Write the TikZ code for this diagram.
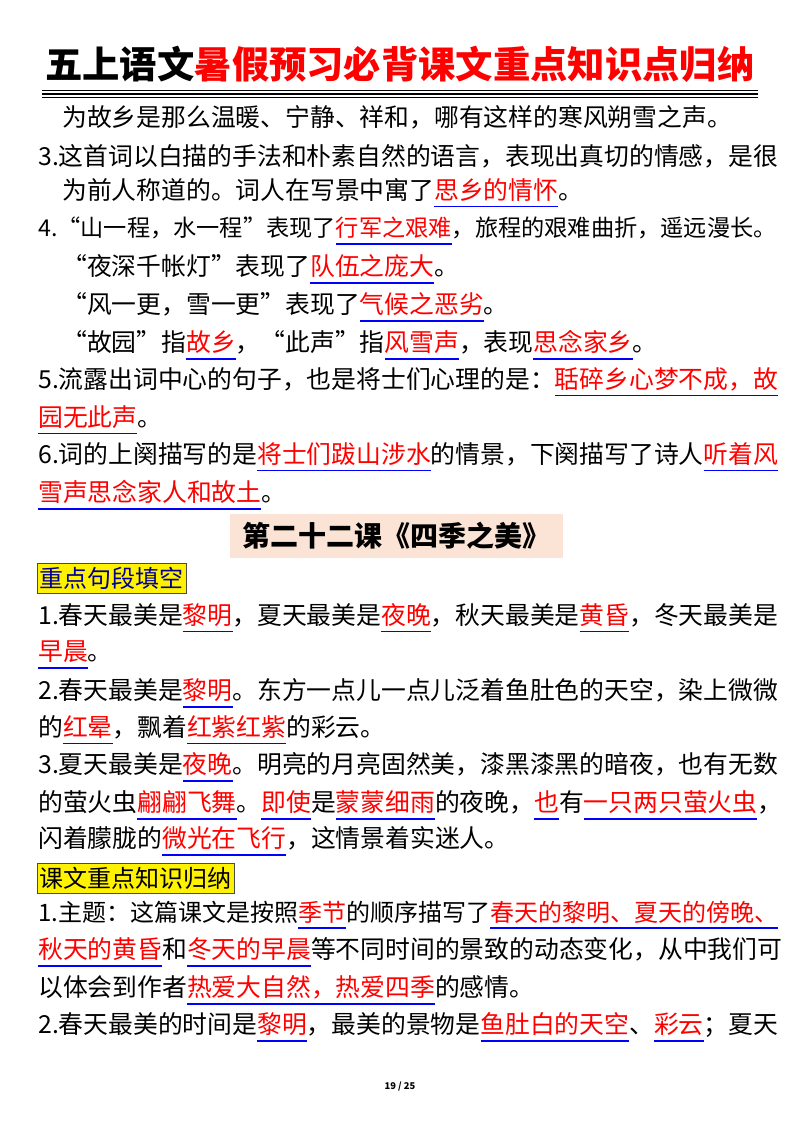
\documentclass[tikz,border=0pt]{standalone}
\usepackage{fontspec}
\setmainfont{Noto Sans CJK SC}
\newcommand\bu[1]{\hbox{\setbox0\hbox{{\color{red}#1}}\rlap{{\color{blue}\rule[-6pt]{\wd0}{1.3pt}}}\box0}}
\definecolor{peach}{RGB}{251,228,213}
\begin{document}
\begin{tikzpicture}[x=0.75pt,y=-0.75pt,
  ln/.style={anchor=west,inner sep=0pt,font=\fontsize{18.6pt}{22pt}\selectfont},
  hl/.style={anchor=west,inner xsep=2pt,inner ysep=3pt,fill=yellow,draw=black!70,font=\fontsize{18pt}{22pt}\selectfont}]
\useasboundingbox (0,0) rectangle (800,1132);
\fill[white] (0,0) rectangle (800,1132);
\node[anchor=center,inner sep=0pt,font=\fontsize{28pt}{32pt}\selectfont\bfseries] (title) at (400,64) {五上语文\textcolor{red}{暑假预习必背课文重点知识点归纳}};
\draw[line width=1.2pt] (42,90.5) -- (758,90.5);
\draw[line width=1.2pt] (42,94) -- (758,94);
\draw[line width=0.8pt] (42,97.5) -- (758,97.5);
\node[ln] (l1) at (62,117) {为故乡是那么温暖、宁静、祥和，哪有这样的寒风朔雪之声。};
\node[ln] (l2) at (38,156) {3.这首词以白描的手法和朴素自然的语言，表现出真切的情感，是很};
\node[ln] (l3) at (62,193) {为前人称道的。词人在写景中寓了\bu{思乡的情怀}。};
\node[ln,font=\fontsize{17.4pt}{22pt}\selectfont] (l4) at (38,231) {4.“山一程，水一程”表现了\bu{行军之艰难}，旅程的艰难曲折，遥远漫长。};
\node[ln] (l5) at (62,269) {“夜深千帐灯”表现了\bu{队伍之庞大}。};
\node[ln] (l6) at (62,307) {“风一更，雪一更”表现了\bu{气候之恶劣}。};
\node[ln] (l7) at (62,345) {“故园”指\bu{故乡}，“此声”指\bu{风雪声}，表现\bu{思念家乡}。};
\node[ln] (l8) at (38,382) {5.流露出词中心的句子，也是将士们心理的是：\bu{聒碎乡心梦不成，故}};
\node[ln] (l9) at (38,420) {\bu{园无此声}。};
\node[ln] (l10) at (38,457) {6.词的上阕描写的是\bu{将士们跋山涉水}的情景，下阕描写了诗人\bu{听着风}};
\node[ln] (l11) at (38,495) {\bu{雪声思念家人和故土}。};
\fill[peach] (230,514) rectangle (563,558);
\node[anchor=center,inner sep=0pt,font=\fontsize{21pt}{24pt}\selectfont\bfseries] (sec) at (396,536) {第二十二课《四季之美》};
\node[hl,text=blue!60!black] (h1) at (37,578) {重点句段填空};
\node[ln] (a1) at (38,618) {1.春天最美是\bu{黎明}，夏天最美是\bu{夜晚}，秋天最美是\bu{黄昏}，冬天最美是};
\node[ln] (a2) at (38,655) {\bu{早晨}。};
\node[ln] (a3) at (38,693) {2.春天最美是\bu{黎明}。东方一点儿一点儿泛着鱼肚色的天空，染上微微};
\node[ln] (a4) at (38,730) {的\bu{红晕}，飘着\bu{红紫红紫}的彩云。};
\node[ln] (a5) at (38,767) {3.夏天最美是\bu{夜晚}。明亮的月亮固然美，漆黑漆黑的暗夜，也有无数};
\node[ln] (a6) at (38,805) {的萤火虫\bu{翩翩飞舞}。\bu{即使}是\bu{蒙蒙细雨}的夜晚，\bu{也}有\bu{一只两只萤火虫}，};
\node[ln] (a7) at (38,841) {闪着朦胧的\bu{微光在飞行}，这情景着实迷人。};
\node[hl] (h2) at (37,878) {课文重点知识归纳};
\node[ln,font=\fontsize{18pt}{22pt}\selectfont] (b1) at (38,915) {1.主题：这篇课文是按照\bu{季节}的顺序描写了\bu{春天的黎明、夏天的傍晚、}};
\node[ln] (b2) at (38,952) {\bu{秋天的黄昏}和\bu{冬天的早晨}等不同时间的景致的动态变化，从中我们可};
\node[ln] (b3) at (38,990) {以体会到作者\bu{热爱大自然，热爱四季}的感情。};
\node[ln] (b4) at (38,1027) {2.春天最美的时间是\bu{黎明}，最美的景物是\bu{鱼肚白的天空}、\bu{彩云}；夏天};
\node[anchor=center,font=\fontsize{7pt}{8pt}\selectfont\bfseries] (pg) at (400,1087) {19 / 25};
\end{tikzpicture}
\end{document}
